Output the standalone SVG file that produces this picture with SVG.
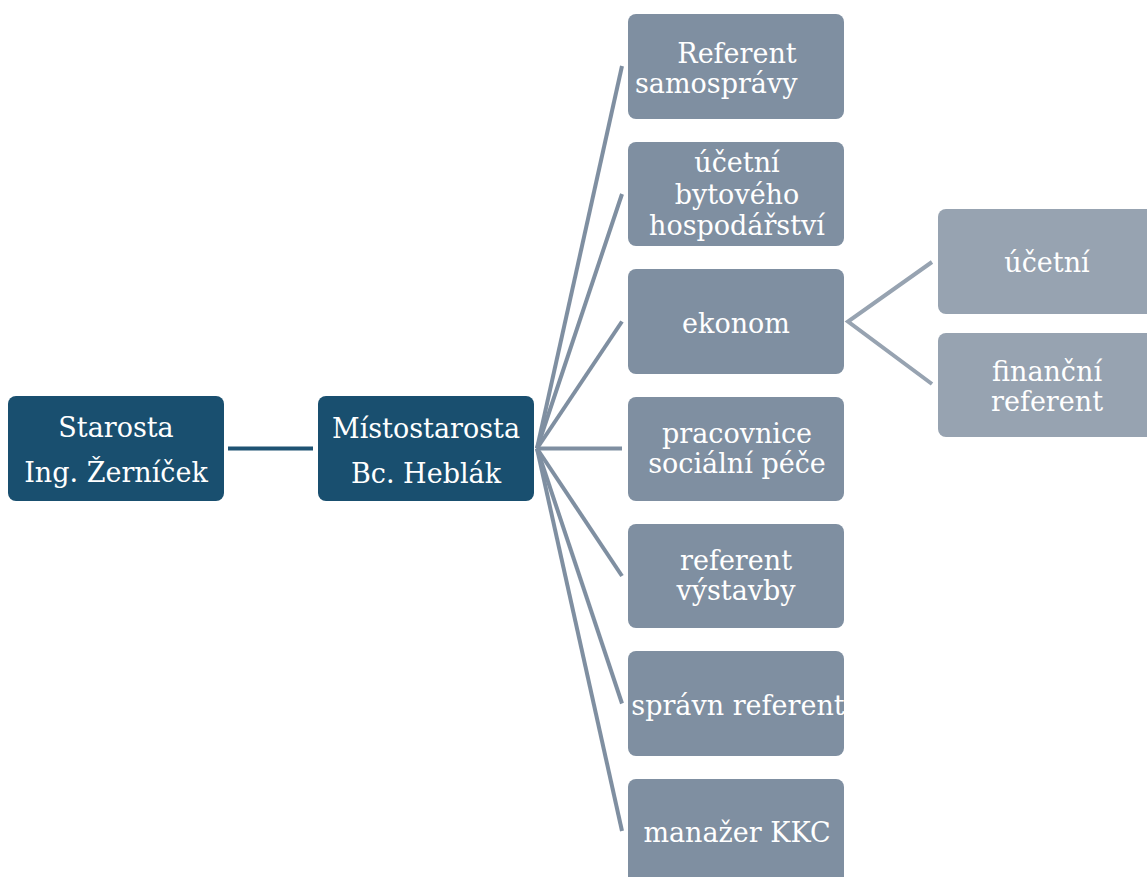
<svg xmlns="http://www.w3.org/2000/svg" width="1147" height="877" viewBox="0 0 1147 877">
<style>
.dark{fill:#194f6f}
.mid{fill:#7f8fa1}
.light{fill:#97a3b1}
text{font-family:"DejaVu Serif","Liberation Serif",serif;font-size:27px;fill:#ffffff;text-anchor:middle}
.c1{stroke:#7f8fa1;stroke-width:4;fill:none}
.c2{stroke:#97a3b1;stroke-width:4;fill:none}
.c0{stroke:#1f5373;stroke-width:4;fill:none}
</style>
<rect width="1147" height="877" fill="#ffffff"/>
<g id="connectors">
<line class="c0" x1="228" y1="448.5" x2="313" y2="448.5"/>
<line class="c1" x1="537" y1="448.5" x2="622" y2="66"/>
<line class="c1" x1="537" y1="448.5" x2="622" y2="194"/>
<line class="c1" x1="537" y1="448.5" x2="622" y2="321.5"/>
<line class="c1" x1="537" y1="448.5" x2="622" y2="448.5"/>
<line class="c1" x1="537" y1="448.5" x2="622" y2="576"/>
<line class="c1" x1="537" y1="448.5" x2="622" y2="703.5"/>
<line class="c1" x1="537" y1="448.5" x2="622" y2="831"/>
<polyline class="c2" points="932,262 848,321.5 932,384"/>
</g>
<g id="starosta">
<rect class="dark" x="8" y="396" width="216" height="105" rx="8"/>
<text x="116" y="437">Starosta</text>
<text x="116" y="482">Ing. Žerníček</text>
</g>
<g id="mistostarosta">
<rect class="dark" x="318" y="396" width="216" height="105" rx="8"/>
<text x="426" y="438">Místostarosta</text>
<text x="426" y="483">Bc. Heblák</text>
</g>
<g id="referent-samospravy">
<rect class="mid" x="628" y="14" width="216" height="105" rx="8"/>
<text x="737" y="63">Referent</text>
<text x="635" y="93" style="text-anchor:start">samosprávy</text>
</g>
<g id="ucetni-bytoveho">
<rect class="mid" x="628" y="142" width="216" height="104" rx="8"/>
<text x="737" y="172">účetní</text>
<text x="737" y="204">bytového</text>
<text x="737" y="235">hospodářství</text>
</g>
<g id="ekonom">
<rect class="mid" x="628" y="269" width="216" height="105" rx="8"/>
<text x="736" y="333">ekonom</text>
</g>
<g id="pracovnice">
<rect class="mid" x="628" y="397" width="216" height="104" rx="8"/>
<text x="737" y="443">pracovnice</text>
<text x="737" y="473">sociální péče</text>
</g>
<g id="referent-vystavby">
<rect class="mid" x="628" y="524" width="216" height="104" rx="8"/>
<text x="736" y="570">referent</text>
<text x="736" y="600">výstavby</text>
</g>
<g id="spravni-referent">
<rect class="mid" x="628" y="651" width="216" height="105" rx="8"/>
<text x="738" y="715">správn referent</text>
</g>
<g id="manazer-kkc">
<rect class="mid" x="628" y="779" width="216" height="105" rx="8"/>
<text x="737" y="842">manažer KKC</text>
</g>
<g id="ucetni">
<rect class="light" x="938" y="209" width="216" height="105" rx="8"/>
<text x="1047" y="272">účetní</text>
</g>
<g id="financni-referent">
<rect class="light" x="938" y="333" width="216" height="104" rx="8"/>
<text x="1047" y="381">finanční</text>
<text x="1047" y="411">referent</text>
</g>
</svg>
